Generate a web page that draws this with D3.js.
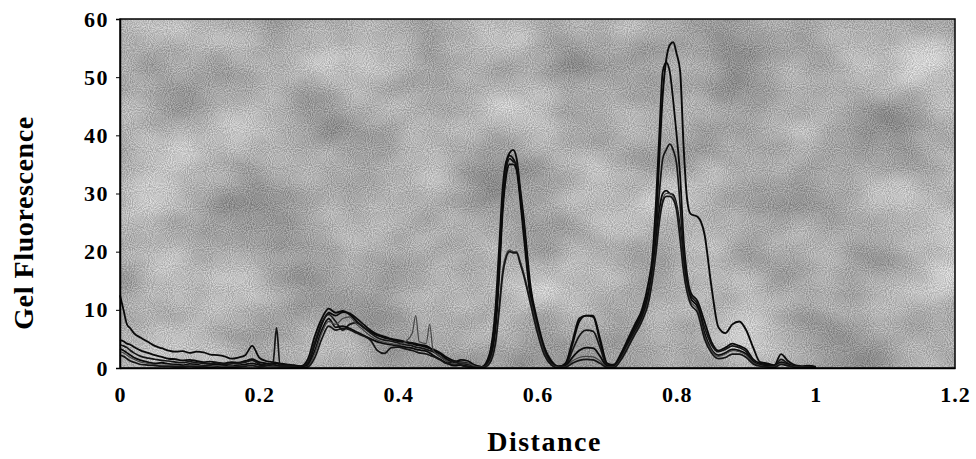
<!DOCTYPE html>
<html>
<head>
<meta charset="utf-8">
<script src="https://cdn.jsdelivr.net/npm/d3@7"></script>
<style>
  html, body { margin: 0; padding: 0; background: #fff; }
  svg { display: block; }
  text { font-family: "Liberation Serif", "Times New Roman", serif; font-weight: bold; fill: #000; }
</style>
</head>
<body>
<svg id="chart" width="976" height="459"></svg>
<script>
// ---- data ----
const xTicks = [0, 0.2, 0.4, 0.6, 0.8, 1, 1.2];
const xTickLabels = ["0", "0.2", "0.4", "0.6", "0.8", "1", "1.2"];
const yTicks = [0, 10, 20, 30, 40, 50, 60];
const xLabel = "Distance";
const yLabel = "Gel Fluorescence";

const distance = [
  0, 0.005, 0.01, 0.015, 0.02, 0.03, 0.04, 0.05, 0.06, 0.07,
  0.08, 0.09, 0.10, 0.11, 0.12, 0.13, 0.14, 0.15, 0.16, 0.17,
  0.18, 0.19, 0.20, 0.21, 0.22, 0.225, 0.23, 0.24, 0.25, 0.26,
  0.27, 0.28, 0.29, 0.30, 0.31, 0.32, 0.33, 0.34, 0.35, 0.36,
  0.37, 0.38, 0.39, 0.40, 0.41, 0.42, 0.425, 0.43, 0.44, 0.445,
  0.45, 0.46, 0.47, 0.48, 0.49, 0.50, 0.51, 0.52, 0.53, 0.54,
  0.545, 0.55, 0.555, 0.56, 0.565, 0.57, 0.575, 0.58, 0.59, 0.60,
  0.61, 0.62, 0.63, 0.64, 0.65, 0.66, 0.67, 0.68, 0.69, 0.70,
  0.71, 0.72, 0.73, 0.74, 0.75, 0.76, 0.765, 0.77, 0.775, 0.78,
  0.785, 0.79, 0.795, 0.80, 0.805, 0.81, 0.815, 0.82, 0.83, 0.84,
  0.85, 0.86, 0.87, 0.88, 0.89, 0.90, 0.91, 0.92, 0.93, 0.94,
  0.95, 0.96, 0.97, 0.98, 0.99, 1.0
];

const lane1 = [
  4.8, 4.6, 4.2, 4.0, 3.6, 3.0, 2.6, 2.2, 1.9, 1.6,
  1.5, 1.3, 1.4, 1.2, 1.0, 1.1, 0.9, 0.8, 1.0, 0.9,
  1.2, 1.5, 1.0, 0.8, 0.7, 0.8, 0.6, 0.5, 0.4, 0.3,
  1.5, 5.5, 8.5, 10.2, 9.5, 9.8, 9.2, 8.0, 7.0, 6.2,
  5.6, 5.2, 4.9, 4.6, 4.4, 4.2, 4.0, 3.9, 3.6, 3.4,
  3.2, 2.6, 1.8, 1.2, 1.0, 0.8, 0.4, 0.2, 1.5, 9,
  18, 29, 35, 37, 37.5, 36, 31, 26, 14, 8,
  3.5, 1.2, 0.3, 0.5, 4, 8, 9, 9, 5, 0.8,
  0.5, 2.2, 4.5, 7, 9.5, 13.5, 17, 24, 36, 47,
  53, 55.5, 56, 54, 51, 38, 29, 26.5, 26, 23,
  14, 7, 6, 7.5, 8, 6.5, 3.5, 1, 0.8, 0.5,
  0.8, 0.4, 0.3, 0.2, 0.3, 0.1
];

const lane2 = [
  12.5, 10, 7.5, 6.8, 6.0, 5.2, 4.5, 3.8, 3.4, 3.0,
  2.8, 2.9, 2.6, 2.8, 2.7, 2.3, 2.2, 2.0, 1.6, 1.8,
  2.2, 3.8, 1.8, 1.2, 1.0, 0.9, 0.8, 0.6, 0.5, 0.3,
  0.8, 4, 7.5, 9.5, 9.0, 9.6, 9.4, 8.5, 7.5, 6.5,
  5.8, 5.4, 5.0, 4.8, 4.5, 4.3, 4.2, 4.0, 3.8, 3.5,
  3.0, 2.4, 1.5, 1.0, 1.4, 1.2, 0.5, 0.2, 2, 11,
  21, 31, 35.5, 36.5, 36, 34.5, 30, 25, 13, 7.5,
  3, 1, 0.2, 0.8, 4.5, 8.5, 9, 8.8, 4.5, 0.5,
  0.6, 2.5, 5, 7.5, 10, 15, 19, 28, 40, 51,
  52.5, 51, 46, 40, 33, 22, 16, 13, 11.5, 8,
  4.5, 3, 3.5, 4.2, 3.8, 3.2, 1.5, 0.8, 0.6, 0.4,
  2.4, 1.2, 0.5, 0.3, 0.4, 0.2
];

const lane3 = [
  4.0, 3.8, 3.5, 3.0, 2.6, 2.0, 1.7, 1.5, 1.3, 1.2,
  1.0, 0.9, 1.1, 0.9, 0.8, 0.7, 0.9, 0.6, 0.7, 0.8,
  1.0, 1.3, 0.7, 0.5, 0.6, 0.5, 0.4, 0.4, 0.3, 0.2,
  1.0, 4.5, 7.8, 9.2, 8.0, 6.5, 7.5, 7.8, 7.0, 6.0,
  5.2, 4.8, 4.6, 4.3, 4.0, 3.8, 3.6, 3.5, 3.2, 3.0,
  2.8, 2.0, 1.2, 0.6, 0.8, 0.6, 0.3, 0.1, 1.2, 8,
  17, 28, 34, 36, 35.5, 35, 30, 24, 12.5, 7,
  2.8, 0.8, 0.2, 0.4, 3, 5.5, 6.5, 6.3, 3.5, 0.4,
  0.4, 2, 4.2, 6.5, 9, 13, 16.5, 23, 30, 36,
  37.5, 38.5, 37.5, 35, 28, 20, 15, 12.5, 11, 7,
  4, 2.8, 3.2, 3.8, 3.5, 2.8, 1.2, 0.6, 0.4, 0.3,
  1.5, 0.8, 0.3, 0.2, 0.2, 0.1
];

const lane4 = [
  3.3, 3.0, 2.6, 2.2, 1.8, 1.3, 1.0, 0.8, 0.9, 0.7,
  0.6, 0.5, 0.7, 0.6, 0.4, 0.5, 0.6, 0.4, 0.3, 0.5,
  0.6, 0.8, 0.5, 0.4, 0.3, 0.3, 0.2, 0.2, 0.1, 0.1,
  0.5, 3, 6.5, 8.5, 7.0, 7.2, 6.8, 6.2, 5.6, 5.0,
  4.5, 4.2, 4.0, 3.8, 3.6, 3.4, 3.2, 3.1, 2.9, 2.6,
  2.2, 1.5, 0.8, 0.4, 0.5, 0.3, 0.1, 0.1, 1.0, 7,
  16, 27, 33, 35, 35, 34, 29, 23, 12, 6.5,
  2.5, 0.6, 0.1, 0.3, 1.8, 3, 3.5, 3.4, 2, 0.3,
  0.3, 1.8, 4, 6.2, 8.5, 12.5, 16, 21, 27, 30,
  30.5, 30, 29.8, 28, 24, 18, 14, 12, 10.5, 6,
  3.2, 2.2, 2.6, 3.2, 3.0, 2.4, 1.0, 0.5, 0.3, 0.2,
  1.0, 0.6, 0.2, 0.1, 0.1, 0.0
];

const lane5 = [
  2.8, 2.6, 2.2, 1.8, 1.5, 1.0, 0.8, 0.6, 0.5, 0.5,
  0.4, 0.3, 0.5, 0.4, 0.3, 0.3, 0.4, 0.3, 0.2, 0.3,
  0.4, 0.5, 0.3, 0.2, 0.2, 0.2, 0.1, 0.1, 0.1, 0.0,
  0.3, 2.5, 6, 8, 7.5, 8.5, 8.8, 7.5, 6.5, 5.5,
  4.8, 4.4, 4.2, 4.0, 4.5, 6, 9, 4.5, 4.2, 7.5,
  3.0, 2.0, 1.2, 0.7, 0.9, 0.8, 0.3, 0.1, 0.8, 5,
  11, 17, 19.5, 20.3, 20, 20, 18.5, 16.5, 11.5, 6.5,
  2.5, 0.6, 0.1, 0.2, 1.2, 1.8, 2, 1.9, 1.2, 0.2,
  0.2, 1.6, 3.8, 6, 8.2, 12, 15.5, 20, 25.5, 29,
  30, 30, 29.5, 27.5, 23, 17, 13.5, 11.5, 10, 5.5,
  3.0, 2.0, 2.4, 3.0, 2.8, 2.2, 0.9, 0.4, 0.2, 0.2,
  0.8, 0.5, 0.2, 0.1, 0.1, 0.0
];

const lane6 = [
  2.2, 2.0, 1.6, 1.2, 1.0, 0.6, 0.5, 0.4, 0.3, 0.3,
  0.2, 0.2, 0.3, 0.2, 0.2, 0.1, 0.2, 0.1, 0.1, 0.2,
  0.3, 0.4, 0.2, 0.4, 1.0, 6.9, 0.5, 0.3, 0.1, 0.0,
  0.2, 1.8, 5, 7.2, 6.5, 6.8, 6.6, 6.0, 5.5, 4.8,
  3.0, 2.5, 3.5, 3.6, 3.3, 3.0, 2.8, 2.6, 2.4, 2.2,
  2.0, 1.4, 0.8, 1.2, 0.5, 0.2, 0.1, 0.0, 0.6, 4.5,
  10, 16, 19, 20, 19.8, 19.8, 18, 16, 11, 6,
  2.2, 0.5, 0.0, 0.1, 0.8, 1.3, 1.5, 1.4, 0.8, 0.1,
  0.1, 1.4, 3.5, 5.8, 8, 11.5, 15, 19.5, 25, 28.5,
  29.5, 29.5, 29, 27, 22, 16.5, 13, 11, 9.5, 5,
  2.6, 1.6, 1.8, 2.4, 2.4, 1.8, 0.7, 0.3, 0.2, 0.1,
  0.6, 0.4, 0.1, 0.0, 0.1, 0.0
];

const lanes = [lane1, lane2, lane3, lane4, lane5, lane6];
const laneColors = ["#0a0a0a", "#0a0a0a", "#151515", "#0a0a0a", "#444", "#151515"];
const laneWidths = [1.9, 1.8, 1.7, 1.8, 1.2, 1.7];

// ---- layout ----
const svg = d3.select("#chart");
const margin = { left: 120, top: 19, right: 976 - 955, bottom: 459 - 368 };
const W = 976 - margin.left - margin.right;
const H = 459 - margin.top - margin.bottom;

const x = d3.scaleLinear().domain([0, 1.2]).range([0, W]);
const y = d3.scaleLinear().domain([0, 60]).range([H, 0]);

// textured background filter (scanned halftone look)
const defs = svg.append("defs");
const f = defs.append("filter").attr("id", "tex")
  .attr("x", 0).attr("y", 0).attr("width", 1).attr("height", 1)
  .attr("color-interpolation-filters", "sRGB");
f.append("feTurbulence").attr("type", "fractalNoise")
  .attr("baseFrequency", "0.009 0.013").attr("numOctaves", 3).attr("seed", 7).attr("result", "low");
f.append("feColorMatrix").attr("in", "low").attr("type", "matrix")
  .attr("values", "0.45 0 0 0 0.14  0.45 0 0 0 0.14  0.45 0 0 0 0.14  0 0 0 0 1").attr("result", "lowg");
f.append("feTurbulence").attr("type", "fractalNoise")
  .attr("baseFrequency", "0.95").attr("numOctaves", 1).attr("seed", 3).attr("result", "fine");
f.append("feColorMatrix").attr("in", "fine").attr("type", "matrix")
  .attr("values", "0.45 0 0 0 0.08  0.45 0 0 0 0.08  0.45 0 0 0 0.08  0 0 0 0 1").attr("result", "fineg");
f.append("feComposite").attr("in", "lowg").attr("in2", "fineg")
  .attr("operator", "arithmetic").attr("k1", 0).attr("k2", 1).attr("k3", 1).attr("k4", 0);

const g = svg.append("g").attr("transform", `translate(${margin.left},${margin.top})`);

g.append("rect").attr("x", 0).attr("y", 0).attr("width", W).attr("height", H)
  .attr("fill", "#aaa").attr("filter", "url(#tex)");

// lines
const line = d3.line()
  .x((d, i) => x(distance[i]))
  .y(d => y(d))
  .curve(d3.curveMonotoneX);

g.append("g").selectAll("path")
  .data(lanes)
  .join("path")
  .attr("d", d => line(d))
  .attr("fill", "none")
  .attr("stroke", (d, i) => laneColors[i])
  .attr("stroke-width", (d, i) => laneWidths[i])
  .attr("stroke-linejoin", "round");

// frame
g.append("rect").attr("x", 0).attr("y", 0).attr("width", W).attr("height", H)
  .attr("fill", "none").attr("stroke", "#000").attr("stroke-width", 1.5);

// axes
const xAxis = d3.axisBottom(x).tickValues(xTicks)
  .tickFormat((d, i) => xTickLabels[i]).tickSize(0).tickPadding(18);
const gx = g.append("g").attr("transform", `translate(0,${H})`).call(xAxis);
gx.select(".domain").attr("stroke", "#000").attr("stroke-width", 1.5);
gx.selectAll("text").style("font-size", "22px").attr("letter-spacing", "1px");

const yAxis = d3.axisLeft(y).tickValues(yTicks).tickSize(4).tickPadding(7);
const gy = g.append("g").call(yAxis);
gy.select(".domain").attr("stroke", "#000").attr("stroke-width", 1.5);
gy.selectAll(".tick line").attr("stroke", "#000");
gy.selectAll("text").style("font-size", "22px").attr("letter-spacing", "1.5px");

// axis titles
svg.append("text")
  .attr("x", margin.left + W / 2 + 7).attr("y", 451)
  .attr("text-anchor", "middle")
  .style("font-size", "28px").attr("letter-spacing", "1.5px")
  .text(xLabel);

svg.append("text")
  .attr("transform", "translate(33,223) rotate(-90)")
  .attr("text-anchor", "middle")
  .style("font-size", "28px").attr("letter-spacing", "0.6px")
  .text(yLabel);
</script>
</body>
</html>
